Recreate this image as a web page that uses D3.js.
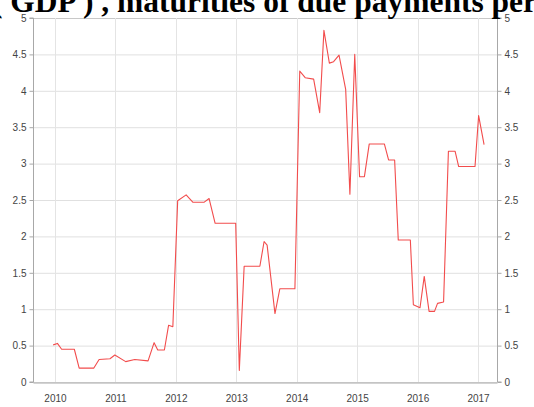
<!DOCTYPE html>
<html>
<head>
<meta charset="utf-8">
<script src="https://cdn.jsdelivr.net/npm/d3@7"></script>
<style>
  html, body { margin: 0; padding: 0; background: #fff; overflow: hidden; }
  svg { display: block; }
</style>
</head>
<body>
<script>
// ---- data (decimal year, value) ----
const titleText = "( GDP ) , maturities of due payments per";
const years = [2009.97, 2010.04, 2010.11, 2010.32, 2010.40, 2010.64, 2010.73, 2010.91, 2010.99, 2011.17,
  2011.32, 2011.54, 2011.64, 2011.70, 2011.81, 2011.88, 2011.95, 2012.03, 2012.17, 2012.28,
  2012.47, 2012.55, 2012.65, 2012.99, 2013.05, 2013.13, 2013.39, 2013.46, 2013.51, 2013.64,
  2013.72, 2013.97, 2014.05, 2014.14, 2014.28, 2014.38, 2014.45, 2014.54, 2014.61, 2014.70,
  2014.81, 2014.88, 2014.96, 2015.04, 2015.12, 2015.20, 2015.45, 2015.52, 2015.62, 2015.68,
  2015.88, 2015.93, 2016.04, 2016.11, 2016.19, 2016.28, 2016.33, 2016.43, 2016.51, 2016.62,
  2016.68, 2016.95, 2017.01, 2017.10];
const values = [0.51, 0.53, 0.45, 0.45, 0.19, 0.19, 0.31, 0.32, 0.37, 0.28,
  0.31, 0.29, 0.54, 0.44, 0.44, 0.78, 0.76, 2.49, 2.57, 2.47,
  2.47, 2.52, 2.18, 2.18, 0.16, 1.59, 1.59, 1.93, 1.88, 0.94,
  1.28, 1.28, 4.27, 4.18, 4.16, 3.70, 4.83, 4.38, 4.40, 4.49,
  4.02, 2.58, 4.50, 2.82, 2.82, 3.27, 3.27, 3.05, 3.05, 1.95,
  1.95, 1.06, 1.02, 1.45, 0.97, 0.97, 1.08, 1.10, 3.17, 3.17,
  2.96, 2.96, 3.66, 3.26];
const xTickYears = [2010, 2011, 2012, 2013, 2014, 2015, 2016, 2017];
const yTicks = [0, 0.5, 1, 1.5, 2, 2.5, 3, 3.5, 4, 4.5, 5];

const W = 534, H = 407;
const plot = { left: 33, right: 497, top: 18, bottom: 382 };

const svg = d3.select("body").append("svg").attr("width", W).attr("height", H);

const x = d3.scaleLinear().domain([2009.636, 2017.314]).range([plot.left, plot.right]);
const y = d3.scaleLinear().domain([0, 5]).range([plot.bottom, plot.top]);

// gridlines
const grid = svg.append("g");
grid.selectAll("line.h").data(yTicks).join("line")
  .attr("x1", plot.left).attr("x2", plot.right)
  .attr("y1", d => y(d) + 0.5).attr("y2", d => y(d) + 0.5)
  .attr("stroke", d => d === 5 ? "#c8c8c8" : "#e0e0e0").attr("stroke-width", 1);
grid.selectAll("line.v").data(xTickYears).join("line")
  .attr("y1", plot.top).attr("y2", plot.bottom)
  .attr("x1", d => Math.round(x(d)) + 0.5).attr("x2", d => Math.round(x(d)) + 0.5)
  .attr("stroke", "#e4e4e4").attr("stroke-width", 1);

// axes
const fmt = d => d3.format("")(d);
const leftAxis = d3.axisLeft(y).tickValues(yTicks).tickSize(4).tickPadding(3).tickFormat(fmt);
const rightAxis = d3.axisRight(y).tickValues(yTicks).tickSize(4).tickPadding(3).tickFormat(fmt);
const bottomAxis = d3.axisBottom(x).tickValues(xTickYears).tickSize(0).tickPadding(12).tickFormat(d3.format("d"));

function styleAxis(g) {
  g.selectAll(".domain").attr("stroke", "#a8a8a8");
  g.selectAll(".tick line").attr("stroke", "#a8a8a8");
  g.selectAll(".tick text").attr("fill", "#444").style("font-family", "Liberation Sans, Arial, sans-serif").style("font-size", "10px");
}
svg.append("g").attr("transform", `translate(${plot.left + 0.5},0)`).call(leftAxis).call(styleAxis)
  .select(".domain").attr("d", `M-4,${plot.top}H0V${plot.bottom}H-4`);
svg.append("g").attr("transform", `translate(${plot.right + 0.5},0)`).call(rightAxis).call(styleAxis)
  .select(".domain").attr("d", `M4,${plot.top}H0V${plot.bottom}H4`);
svg.append("g").attr("transform", `translate(0,${plot.bottom + 0.5})`).call(bottomAxis).call(styleAxis);

// line
const data = years.map((t, i) => ({ t, v: values[i] }));
svg.append("path").datum(data)
  .attr("fill", "none")
  .attr("stroke", "#f24c4c")
  .attr("stroke-width", 1.1)
  .attr("stroke-linejoin", "round")
  .attr("d", d3.line().x(d => x(d.t)).y(d => y(d.v)));

// title (partially cropped, as in the reference)
svg.append("text")
  .attr("x", -8).attr("y", 12)
  .attr("textLength", 545).attr("lengthAdjust", "spacingAndGlyphs")
  .style("font-family", "Liberation Serif, Times New Roman, serif")
  .style("font-weight", "bold").style("font-size", "31px")
  .attr("fill", "#000")
  .text(titleText);
</script>
</body>
</html>
